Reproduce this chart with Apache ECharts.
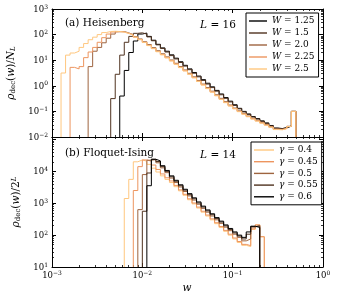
<!DOCTYPE html>
<html><head><meta charset="utf-8">
<script src="https://cdn.jsdelivr.net/npm/echarts@6/dist/echarts.min.js"></script>
<style>html,body{margin:0;padding:0;background:#fff}#c{width:340px;height:300px}</style>
</head><body><div id="c"></div><script>
// log-spaced histogram bin edges (0.05 decade)
const binEdges = [0.001,0.001122,0.001259,0.001413,0.001585,0.001778,0.001995,0.002239,0.002512,0.002818,
 0.003162,0.003548,0.003981,0.004467,0.005012,0.005623,0.006310,0.007079,0.007943,0.008913,
 0.01,0.01122,0.01259,0.01413,0.01585,0.01778,0.01995,0.02239,0.02512,0.02818,
 0.03162,0.03548,0.03981,0.04467,0.05012,0.05623,0.06310,0.07079,0.07943,0.08913,
 0.1,0.1122,0.1259,0.1413,0.1585,0.1778,0.1995,0.2239,0.2512,0.2818,
 0.3162,0.3548,0.3981,0.4467,0.5012,0.5623,0.6310,0.7079,0.7943,0.8913,1];

// (a) Heisenberg, L = 16
const heisNames = ['W = 1.25','W = 1.5','W = 2.0','W = 2.25','W = 2.5'];
const heisStart = [15,13,8,4,2];
const heisW125 = [0.398,3.98,20.0,56.2,105,115,85.1,60.3,41.7,30.2,22.4,16.2,12.0,8.71,6.31,4.57,3.31,2.40,1.74,1.26,0.912,0.661,0.479,0.347,0.251,0.182,0.132,0.100,0.0794,0.0631,0.0525,0.0427,0.0355,0.0282,0.0224,0.0214,0.0234,0.0269,0.100];
const heisW15 = [0.316,2.82,15.8,50.1,85.1,112,117,105,81.3,57.5,39.8,28.8,20.9,15.1,11.2,8.13,5.89,4.27,3.09,2.24,1.62,1.17,0.851,0.617,0.447,0.324,0.234,0.170,0.126,0.0955,0.0759,0.0603,0.0501,0.0407,0.0339,0.0269,0.0219,0.0209,0.0229,0.0263,0.100];
const heisW20 = [5.62,22.4,31.6,47.9,72.4,105,129,132,117,100,83.2,67.6,52.5,40.7,30.9,23.4,17.8,13.5,10.2,7.59,5.62,4.17,3.09,2.24,1.62,1.17,0.851,0.617,0.447,0.324,0.240,0.178,0.135,0.105,0.0832,0.0661,0.0537,0.0447,0.0372,0.0309,0.0251,0.0204,0.0200,0.0219,0.0263,0.100];
const heisW225 = [5.25,4.57,5.62,12.6,20.9,31.6,50.1,75.9,105,126,132,126,112,95.5,79.4,64.6,50.1,38.0,28.8,21.9,16.6,12.6,9.55,7.08,5.25,3.89,2.88,2.09,1.51,1.10,0.794,0.575,0.417,0.302,0.224,0.166,0.129,0.100,0.0794,0.0631,0.0513,0.0427,0.0355,0.0295,0.0245,0.0200,0.0195,0.0214,0.0257,0.100];
const heisW25 = [3.16,15.8,19.1,22.4,31.6,44.7,63.1,79.4,100,120,132,135,132,126,112,95.5,79.4,63.1,49.0,37.2,28.2,21.4,16.2,12.3,9.33,6.92,5.13,3.80,2.82,2.04,1.48,1.07,0.776,0.562,0.407,0.295,0.219,0.162,0.126,0.0977,0.0776,0.0617,0.0501,0.0417,0.0347,0.0288,0.0240,0.0195,0.0191,0.0214,0.0257,0.100];

// (b) Floquet-Ising, L = 14
const floqNames = ['γ = 0.4','γ = 0.45','γ = 0.5','γ = 0.55','γ = 0.6'];
const floqStart = [16,18,19,20,21];
const floqG04 = [1410,5620,20000,22900,20900,16600,12600,9550,7240,5620,4470,3310,2450,1780,1290,955,708,525,398,302,229,174,132,100,75.9,58.9,47.9,43.7,151,209,89.1];
const floqG045 = [2510,14100,22900,20900,15800,11500,8320,6310,5010,3630,2630,1910,1380,1020,759,562,427,324,245,186,141,107,81.3,63.1,51.3,46.8,158,209,89.1];
const floqG05 = [631,7940,22400,23400,18600,12900,9120,6170,4470,3240,2340,1700,1260,933,692,525,398,302,234,178,138,107,85.1,66.1,75.9,178,204];
const floqG055 = [562,8910,24000,20400,14100,10000,6760,4900,3550,2570,1860,1380,1020,759,575,437,331,257,195,151,117,93.3,75.9,107,186,191];
const floqG06 = [3550,24000,21400,15100,10700,7240,5250,3800,2750,2000,1480,1100,813,617,468,355,275,209,162,126,100,85.1,126,191,174];

// axis ticks
const xMajorTicks = [0.001,0.01,0.1,1];
const xMinorTicks = [0.002,0.003,0.004,0.005,0.006,0.007,0.008,0.009,0.02,0.03,0.04,0.05,0.06,0.07,0.08,0.09,0.2,0.3,0.4,0.5,0.6,0.7,0.8,0.9];
const yTopMajor = [0.01,0.1,1,10,100,1000];
const yTopMinor = [0.02,0.03,0.04,0.05,0.06,0.07,0.08,0.09,0.2,0.3,0.4,0.5,0.6,0.7,0.8,0.9,2,3,4,5,6,7,8,9,20,30,40,50,60,70,80,90,200,300,400,500,600,700,800,900];
const yBotMajor = [10,100,1000,10000,100000];
const yBotLabels = [10,100,1000,10000];
const yBotMinor = [20,30,40,50,60,70,80,90,200,300,400,500,600,700,800,900,2000,3000,4000,5000,6000,7000,8000,9000,20000,30000,40000,50000,60000,70000,80000,90000];

const copper = ['#000000','#4f321f','#9e643f','#ed955f','#ffc77f'];
const FONT = 'DejaVu Serif';
const X_MIN = 0.001, X_MAX = 1;
const YT_MIN = 0.01, YT_MAX = 1000;
const YB_MIN = 10, YB_MAX = 120000;

function stepData(start, vals, floor) {
  const d = [[binEdges[start], floor]];
  vals.forEach((v, i) => d.push([binEdges[start + i], v]));
  d.push([binEdges[start + vals.length], floor]);
  return d;
}
function hist(name, color, start, vals, floor, ai) {
  return {type:'line', name, step:'end', symbol:'none', showSymbol:false, xAxisIndex:ai, yAxisIndex:ai,
    data: stepData(start, vals, floor), lineStyle:{color, width:1}, itemStyle:{color},
    clip:true, silent:true, animation:false};
}
const supRich = {
  b:{fontFamily:FONT,fontSize:8.5,lineHeight:10,verticalAlign:'bottom',color:'#000'},
  s:{fontFamily:FONT,fontSize:6,lineHeight:8,padding:[0,0,5,0],verticalAlign:'top',color:'#000'}
};
function powLabel(v) {
  const e = Math.round(Math.log10(v));
  return '{b|10}{s|' + (e < 0 ? '\u2212' + (-e) : String(e)) + '}';
}
function ax(grid, pos, min, max, ticks, len, showLine, labelVals, isX) {
  const a = {type:'log', logBase:10, gridIndex:grid, position:pos, min, max,
    axisLine:{show:showLine, onZero:false, lineStyle:{color:'#000', width:1}},
    axisTick:{show:true, inside:true, length:len, customValues:ticks, lineStyle:{color:'#000', width: len > 3 ? 1 : 0.8}},
    axisLabel:{show:false}, splitLine:{show:false}, minorTick:{show:false}, silent:true};
  if (labelVals) {
    a.axisLabel = {show:true, customValues:labelVals, formatter:powLabel, rich:supRich, margin: isX ? 3 : 4, color:'#000'};
  }
  return a;
}
const xAxes = [
  ax(0,'bottom',X_MIN,X_MAX,xMajorTicks,4,true,null,true),
  ax(0,'bottom',X_MIN,X_MAX,xMinorTicks,2,false,null,true),
  ax(0,'top',X_MIN,X_MAX,xMajorTicks,4,true,null,true),
  ax(0,'top',X_MIN,X_MAX,xMinorTicks,2,false,null,true),
  ax(1,'bottom',X_MIN,X_MAX,xMajorTicks,4,true,xMajorTicks,true),
  ax(1,'bottom',X_MIN,X_MAX,xMinorTicks,2,false,null,true),
  ax(1,'top',X_MIN,X_MAX,xMajorTicks,4,true,null,true),
  ax(1,'top',X_MIN,X_MAX,xMinorTicks,2,false,null,true)
];
const yAxes = [
  ax(0,'left',YT_MIN,YT_MAX,yTopMajor,4,true,yTopMajor,false),
  ax(0,'left',YT_MIN,YT_MAX,yTopMinor,2,false,null,false),
  ax(0,'right',YT_MIN,YT_MAX,yTopMajor,4,true,null,false),
  ax(0,'right',YT_MIN,YT_MAX,yTopMinor,2,false,null,false),
  ax(1,'left',YB_MIN,YB_MAX,yBotMajor,4,true,yBotLabels,false),
  ax(1,'left',YB_MIN,YB_MAX,yBotMinor,2,false,null,false),
  ax(1,'right',YB_MIN,YB_MAX,yBotMajor,4,true,null,false),
  ax(1,'right',YB_MIN,YB_MAX,yBotMinor,2,false,null,false)
];

const heisVals = [heisW125, heisW15, heisW20, heisW225, heisW25];
const floqVals = [floqG04, floqG045, floqG05, floqG055, floqG06];
const series = [];
heisVals.forEach((v, i) => series.push(hist(heisNames[i], copper[i], heisStart[i], v, YT_MIN, 0)));
floqVals.forEach((v, i) => series.push(hist(floqNames[i], copper[4 - i], floqStart[i], v, YB_MIN, 4)));

function legendCfg(names, left, top, gap, w) {
  return {data:names, left, top, orient:'vertical', icon:'rect', itemWidth:w, itemHeight:1.4, itemGap:gap,
    padding:[3,4,3,3], borderColor:'#000', borderWidth:1, backgroundColor:'#fff', borderRadius:0,
    selectedMode:false,
    textStyle:{fontFamily:FONT, fontSize:9, color:'#000', lineHeight:10,
      rich:{i:{fontFamily:FONT, fontSize:9, fontStyle:'italic', color:'#000', lineHeight:10},
            n:{fontFamily:FONT, fontSize:9, color:'#000', lineHeight:10}}},
    formatter: n => { const p = n.split(' = '); return '{i|' + p[0] + '}{n| = ' + p[1] + '}'; }};
}

const txtRich = {
  m:{fontFamily:FONT,fontSize:10.5,lineHeight:11,verticalAlign:'top',color:'#000'},
  mi:{fontFamily:FONT,fontSize:10.5,fontStyle:'italic',lineHeight:11,verticalAlign:'top',color:'#000'},
  sb:{fontFamily:FONT,fontSize:7,lineHeight:7,padding:[6,0,0,0],verticalAlign:'bottom',color:'#000'},
  sbi:{fontFamily:FONT,fontSize:7,fontStyle:'italic',lineHeight:7,padding:[6,0,0,0],verticalAlign:'bottom',color:'#000'},
  spi:{fontFamily:FONT,fontSize:7,fontStyle:'italic',lineHeight:7,padding:[0,0,6,0],verticalAlign:'top',color:'#000'},
  a:{fontFamily:FONT,fontSize:10.5,color:'#000'},
  ai:{fontFamily:FONT,fontSize:10.5,fontStyle:'italic',color:'#000'}
};

const chart = echarts.init(document.getElementById('c'), null, {renderer:'canvas'});
chart.setOption({
  animation:false,
  backgroundColor:'#fff',
  grid:[{left:52, top:9, width:271, height:128},{left:52, top:137, width:271, height:130}],
  xAxis:xAxes, yAxis:yAxes,
  legend:[legendCfg(heisNames, 246, 13, 2, 18), legendCfg(floqNames, 251, 142, 1.7, 20)],
  series,
  graphic:[
    {type:'text', x:11, y:73, rotation:Math.PI/2, silent:true,
     style:{text:'{mi|ρ}{sb|dec}{m|(}{mi|w}{m|)/}{mi|N}{sbi|L}', rich:txtRich, align:'center', verticalAlign:'middle'}},
    {type:'text', x:16, y:202, rotation:Math.PI/2, silent:true,
     style:{text:'{mi|ρ}{sb|dec}{m|(}{mi|w}{m|)/2}{spi|L}', rich:txtRich, align:'center', verticalAlign:'middle'}},
    {type:'text', x:187, y:288, silent:true,
     style:{text:'{mi|w}', rich:txtRich, align:'center', verticalAlign:'middle'}},
    {type:'text', x:65, y:23, silent:true,
     style:{text:'{a|(a) Heisenberg}', rich:txtRich, align:'left', verticalAlign:'middle'}},
    {type:'text', x:218, y:25, silent:true,
     style:{text:'{ai|L}{a| = 16}', rich:txtRich, align:'center', verticalAlign:'middle'}},
    {type:'text', x:65, y:153, silent:true,
     style:{text:'{a|(b) Floquet-Ising}', rich:txtRich, align:'left', verticalAlign:'middle'}},
    {type:'text', x:218, y:155, silent:true,
     style:{text:'{ai|L}{a| = 14}', rich:txtRich, align:'center', verticalAlign:'middle'}}
  ]
});
</script></body></html>
